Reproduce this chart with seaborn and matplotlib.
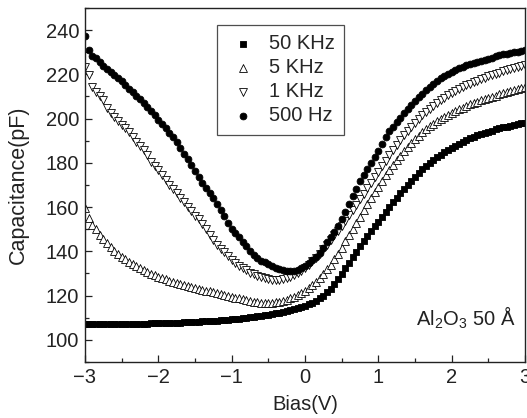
import numpy as np
import pandas as pd
import matplotlib
matplotlib.use('Agg')
import matplotlib.pyplot as plt
import seaborn as sns
from matplotlib.ticker import MultipleLocator

sns.set_style('ticks')
plt.rcParams['font.family'] = ['Liberation Sans', 'DejaVu Sans']
plt.rcParams['mathtext.fontset'] = 'custom'
plt.rcParams['mathtext.rm'] = 'Liberation Sans'

# bias sweep, -3 V to 3 V in 0.05 V steps
bias = np.linspace(-3, 3, 121)

c_50khz = [
    107.0, 107.0, 107.0, 107.0, 107.0, 107.0, 107.0, 107.0, 107.1, 107.1,
    107.1, 107.1, 107.2, 107.2, 107.2, 107.3, 107.3, 107.3, 107.4, 107.4,
    107.5, 107.5, 107.6, 107.6, 107.7, 107.7, 107.8, 107.9, 108.0, 108.0,
    108.1, 108.2, 108.3, 108.4, 108.5, 108.6, 108.7, 108.8, 109.0, 109.1,
    109.3, 109.4, 109.6, 109.8, 110.0, 110.2, 110.4, 110.6, 110.9, 111.1,
    111.4, 111.7, 112.0, 112.3, 112.7, 113.0, 113.4, 113.9, 114.3, 114.8,
    115.3, 116.0, 116.8, 117.7, 118.8, 120.0, 121.5, 123.2, 125.2, 127.4,
    129.8, 132.3, 134.8, 137.3, 139.8, 142.2, 144.6, 146.9, 149.1, 151.3,
    153.4, 155.6, 157.8, 160.0, 162.1, 164.2, 166.2, 168.2, 170.1, 171.9,
    173.7, 175.4, 177.0, 178.5, 179.9, 181.2, 182.5, 183.7, 184.8, 185.9,
    186.9, 187.8, 188.7, 189.5, 190.3, 191.0, 191.7, 192.4, 193.0, 193.6,
    194.1, 194.6, 195.1, 195.6, 196.0, 196.4, 196.8, 197.2, 197.6, 197.9,
    198.2,
]

c_5khz = [
    159.8, 155.0, 152.0, 150.2, 147.6, 145.4, 143.6, 141.8, 140.2, 138.8,
    137.6, 136.4, 135.3, 134.3, 133.3, 132.4, 131.5, 130.7, 129.9, 129.2,
    128.5, 127.9, 127.3, 126.7, 126.2, 125.7, 125.2, 124.7, 124.3, 123.9,
    123.5, 123.1, 122.7, 122.3, 121.9, 121.5, 121.1, 120.7, 120.3, 119.9,
    119.5, 119.1, 118.7, 118.3, 117.9, 117.5, 117.2, 116.9, 116.7, 116.6,
    116.6, 116.7, 116.9, 117.2, 117.6, 118.1, 118.7, 119.4, 120.2, 121.1,
    122.1, 123.3, 124.6, 126.1, 127.8, 129.7, 131.8, 134.0, 136.4, 139.0,
    141.7, 144.5, 147.3, 150.1, 152.9, 155.7, 158.5, 161.2, 163.9, 166.6,
    169.2, 171.8, 174.3, 176.7, 179.0, 181.2, 183.3, 185.3, 187.2, 189.0,
    190.7, 192.3, 193.8, 195.2, 196.5, 197.7, 198.8, 199.9, 200.9, 201.8,
    202.7, 203.5, 204.3, 205.0, 205.7, 206.4, 207.0, 207.6, 208.2, 208.8,
    209.4, 209.9, 210.4, 210.9, 211.4, 211.9, 212.4, 212.9, 213.4, 213.9,
    214.4,
]

c_1khz = [
    223.4, 219.6, 214.2, 211.8, 210.0, 208.2, 204.8, 202.4, 200.8, 199.0,
    197.2, 195.6, 193.8, 191.6, 189.6, 187.8, 186.0, 183.4, 180.6, 178.6,
    176.6, 174.6, 172.4, 170.2, 168.2, 166.2, 164.2, 162.2, 160.2, 158.2,
    156.2, 154.4, 152.4, 150.0, 147.6, 145.2, 142.8, 141.0, 139.8, 138.0,
    136.2, 134.8, 133.6, 132.4, 131.4, 130.4, 129.6, 128.8, 128.3, 127.8,
    127.4, 127.1, 127.0, 127.0, 127.3, 127.8, 128.5, 129.3, 130.2, 131.3,
    132.6, 134.0, 135.5, 137.2, 139.0, 140.9, 142.9, 145.0, 147.2, 149.4,
    151.6, 153.9, 156.3, 158.7, 161.1, 163.5, 166.0, 168.5, 171.0, 173.5,
    176.0, 178.5, 181.0, 183.5, 186.0, 188.2, 190.4, 192.4, 194.4, 196.2,
    198.0, 199.8, 201.4, 203.0, 204.5, 205.9, 207.2, 208.4, 209.5, 210.6,
    211.6, 212.5, 213.4, 214.2, 215.0, 215.8, 216.5, 217.2, 217.9, 218.5,
    219.1, 219.7, 220.3, 220.8, 221.4, 221.9, 222.4, 222.9, 223.4, 223.8,
    224.3,
]

c_500hz = [
    237.4, 231.2, 228.4, 227.4, 225.6, 223.6, 222.4, 221.2, 219.7, 218.4,
    217.0, 215.2, 213.5, 211.8, 210.2, 208.7, 207.0, 205.4, 203.6, 201.6,
    199.5, 197.5, 195.6, 193.6, 191.5, 189.4, 186.9, 184.2, 181.6, 179.0,
    176.4, 173.6, 171.0, 168.7, 166.3, 164.0, 161.6, 158.9, 156.2, 153.0,
    150.2, 148.3, 146.3, 144.3, 142.2, 140.0, 138.2, 136.8, 135.8, 135.0,
    134.3, 133.4, 132.7, 132.1, 131.6, 131.3, 131.1, 131.1, 131.4, 132.3,
    133.6, 134.8, 136.2, 137.6, 139.4, 141.6, 144.0, 146.4, 148.8, 151.4,
    154.4, 158.0, 161.6, 165.0, 168.4, 171.6, 174.6, 177.4, 180.0, 182.6,
    185.2, 188.4, 191.8, 194.2, 196.4, 198.4, 200.4, 202.4, 204.2, 206.0,
    207.8, 209.6, 211.3, 212.9, 214.4, 215.8, 217.1, 218.3, 219.4, 220.3,
    221.2, 222.0, 222.8, 223.4, 224.0, 224.6, 225.1, 225.6, 226.1, 226.6,
    227.1, 227.6, 228.1, 228.6, 229.0, 229.4, 229.7, 230.0, 230.3, 230.6,
    230.9,
]

series = [
    ('50 KHz', c_50khz, 's', 14, 'black'),
    ('5 KHz', c_5khz, '^', 32, 'white'),
    ('1 KHz', c_1khz, 'v', 32, 'white'),
    ('500 Hz', c_500hz, 'o', 24, 'black'),
]

fs = 14.5
ink = '#222222'

fig = plt.figure(figsize=(5.27, 4.18), dpi=100)
ax = fig.add_axes([0.161, 0.134, 0.835, 0.847])

for name, vals, mk, size, face in series:
    df = pd.DataFrame({'bias': bias, 'cap': vals})
    sns.scatterplot(data=df, x='bias', y='cap', ax=ax, marker=mk, s=size,
                    color=face, edgecolor='black', linewidth=0.6, label=name)

ax.set_xlim(-3, 3)
ax.set_ylim(90, 250)
ax.set_xticks(range(-3, 4))
ax.set_xticklabels(['\u22123', '\u22122', '\u22121', '0', '1', '2', '3'])
ax.set_yticks(range(100, 241, 20))
ax.xaxis.set_minor_locator(MultipleLocator(0.5))
ax.yaxis.set_minor_locator(MultipleLocator(10))
ax.tick_params(which='both', direction='in', top=False, right=False,
               labelsize=fs, colors=ink, width=0.9)
ax.tick_params(which='major', length=5, pad=4)
ax.tick_params(which='minor', length=3)
for sp in ax.spines.values():
    sp.set_linewidth(1.0)
    sp.set_color(ink)

ax.set_xlabel('Bias(V)', fontsize=fs, color=ink, labelpad=6)
ax.set_ylabel('Capacitance(pF)', fontsize=15.5, color=ink, labelpad=12)

ax.text(0.98, 0.124, r'Al$_\mathregular{2}$O$_\mathregular{3}$ 50 Å', transform=ax.transAxes,
        ha='right', va='center', fontsize=fs, color=ink)

leg = ax.legend(loc='upper left', bbox_to_anchor=(0.30, 0.951), borderaxespad=0,
                frameon=True, fancybox=False, fontsize=fs, handletextpad=0.45,
                borderpad=0.45, labelspacing=0.25, handlelength=1.7)
leg.get_frame().set_edgecolor(ink)
leg.get_frame().set_linewidth(0.9)

fig.savefig('out.png', dpi=100)
